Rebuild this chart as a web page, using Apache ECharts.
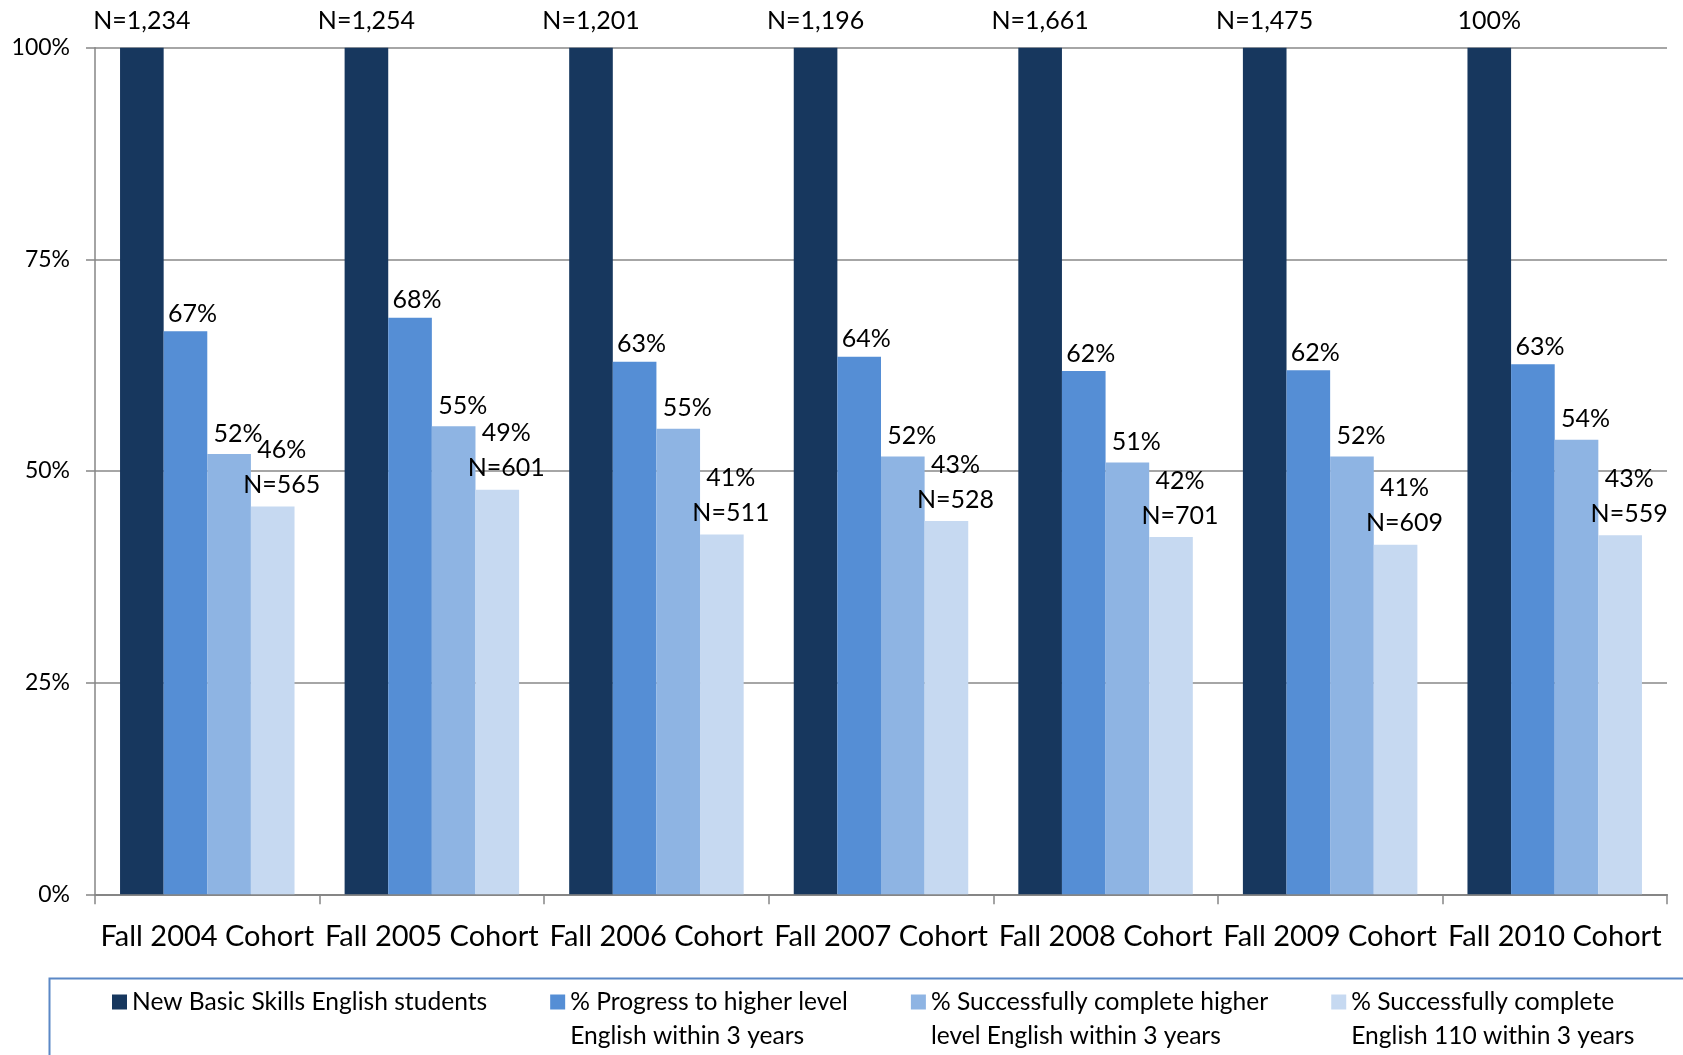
<!DOCTYPE html>
<html>
<head>
<meta charset="utf-8">
<script src="https://cdn.jsdelivr.net/npm/echarts@6/dist/echarts.min.js"></script>
<style>
html,body{margin:0;padding:0;background:#fff;}
#chart{width:1683px;height:1055px;}
</style>
</head>
<body>
<div id="chart"></div>
<script>
const categories = ['Fall 2004 Cohort','Fall 2005 Cohort','Fall 2006 Cohort','Fall 2007 Cohort','Fall 2008 Cohort','Fall 2009 Cohort','Fall 2010 Cohort'];
const seriesNames = [
  'New Basic Skills English students',
  '% Progress to higher level\nEnglish within 3 years',
  '% Successfully complete higher\nlevel English within 3 years',
  '% Successfully complete\nEnglish 110 within 3 years'
];
const newStudents = [100, 100, 100, 100, 100, 100, 100];
const progress = [66.5, 68.1, 62.9, 63.5, 61.8, 61.9, 62.6];
const completeHigher = [52.0, 55.3, 55.0, 51.7, 51.0, 51.7, 53.7];
const complete110 = [45.8, 47.8, 42.5, 44.1, 42.2, 41.3, 42.4];

const newStudentsLabels = ['N=1,234','N=1,254','N=1,201','N=1,196','N=1,661','N=1,475','100%'];
const progressLabels = ['67%','68%','63%','64%','62%','62%','63%'];
const completeHigherLabels = ['52%','55%','55%','52%','51%','52%','54%'];
const complete110Labels = ['46%','49%','41%','43%','42%','41%','43%'];
const complete110Counts = ['N=565','N=601','N=511','N=528','N=701','N=609','N=559'];
const yTicks = [0, 25, 50, 75, 100];

const colors = ['#17375E', '#558ED5', '#8EB4E3', '#C6D9F1'];
const FONT = 'Lato';

const chart = echarts.init(document.getElementById('chart'));
const labelBase = {show: true, position: 'top', color: '#000', fontFamily: FONT, fontSize: 25};

chart.setOption({
  animation: false,
  color: colors,
  grid: {left: 95, right: 16, top: 47.7, bottom: 160.7, containLabel: false},
  legend: {
    data: seriesNames,
    left: 112,
    top: 951,
    padding: 0,
    itemWidth: 15,
    itemHeight: 15,
    itemGap: 63,
    icon: 'rect',
    formatter: function (name) {
      const lines = name.split('\n');
      if (lines.length < 2) lines.push(' ');
      return ' \n' + lines.join('\n');
    },
    textStyle: {fontFamily: FONT, fontSize: 24.6, color: '#000', lineHeight: 34}
  },
  graphic: [{
    type: 'rect', left: 47, top: 976,
    shape: {width: 1700, height: 200},
    style: {fill: 'none', stroke: '#5B88C6', lineWidth: 2},
    silent: true
  }],
  xAxis: {
    type: 'category',
    data: categories,
    axisLine: {lineStyle: {color: '#868686', width: 2}},
    axisTick: {show: true, length: 10, lineStyle: {color: '#868686', width: 1.5}},
    axisLabel: {color: '#000', fontFamily: FONT, fontSize: 29, margin: 28, interval: 0}
  },
  yAxis: {
    type: 'value',
    min: yTicks[0], max: yTicks[yTicks.length - 1], interval: 25,
    axisLine: {show: true, lineStyle: {color: '#868686', width: 1.5}},
    axisTick: {show: true, length: 9, lineStyle: {color: '#868686', width: 1.5}},
    axisLabel: {color: '#000', fontFamily: FONT, fontSize: 23, margin: 25, formatter: '{value}%'},
    splitLine: {lineStyle: {color: '#898989', width: 1.5}}
  },
  series: [
    {
      name: seriesNames[0], type: 'bar', data: newStudents,
      barGap: 0, barCategoryGap: '22.3%',
      label: Object.assign({}, labelBase, {distance: 14, formatter: p => newStudentsLabels[p.dataIndex]})
    },
    {
      name: seriesNames[1], type: 'bar', data: progress,
      label: Object.assign({}, labelBase, {distance: 5, offset: [7, 0], formatter: p => progressLabels[p.dataIndex]})
    },
    {
      name: seriesNames[2], type: 'bar', data: completeHigher,
      label: Object.assign({}, labelBase, {distance: 8, offset: [9, 0], formatter: p => completeHigherLabels[p.dataIndex]})
    },
    {
      name: seriesNames[3], type: 'bar', data: complete110,
      label: Object.assign({}, labelBase, {distance: 4, offset: [9, 0], lineHeight: 35,
        formatter: p => complete110Labels[p.dataIndex] + '\n' + complete110Counts[p.dataIndex]})
    }
  ]
});
</script>
</body>
</html>
